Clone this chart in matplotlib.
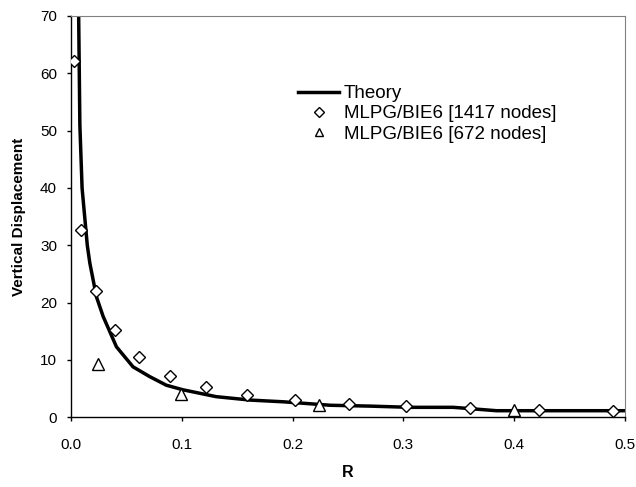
import matplotlib.pyplot as plt
import numpy as np

plt.rcParams['font.family'] = ['Liberation Sans', 'DejaVu Sans']

# theory curve
theory_r = [0.0068, 0.008, 0.010, 0.0147, 0.017, 0.023, 0.029, 0.041, 0.056, 0.071,
            0.086, 0.101, 0.131, 0.162, 0.192, 0.234, 0.27, 0.306, 0.345, 0.384, 0.44, 0.5]
theory_v = [72, 51, 40, 30, 26.9, 21, 17.6, 12.3, 8.8, 7.1,
            5.6, 4.8, 3.6, 3.0, 2.7, 2.1, 1.95, 1.74, 1.74, 1.15, 1.15, 1.15]

# MLPG/BIE6 [1417 nodes]
fine_r = [0.0024, 0.009, 0.0223, 0.0397, 0.0617, 0.089, 0.122, 0.159, 0.2025,
          0.251, 0.302, 0.360, 0.422, 0.489]
fine_v = [62.2, 32.7, 22.0, 15.3, 10.6, 7.2, 5.35, 3.9, 3.1,
          2.3, 1.97, 1.7, 1.3, 1.1]

# MLPG/BIE6 [672 nodes]
coarse_r = [0.024, 0.099, 0.224, 0.400]
coarse_v = [9.3, 4.1, 2.2, 1.3]

fig = plt.figure(figsize=(6.36, 4.87), dpi=100)
ax = fig.add_axes([71 / 636, 1 - 417.3 / 487, (625 - 71) / 636, (417.3 - 16) / 487])

ax.plot(theory_r, theory_v, color='black', linewidth=2.5, label='Theory', zorder=2)
ax.plot(fine_r, fine_v, linestyle='none', marker='D', markersize=6,
        markerfacecolor='white', markeredgecolor='black', markeredgewidth=1.0,
        label='MLPG/BIE6 [1417 nodes]', zorder=3)
ax.plot(coarse_r, coarse_v, linestyle='none', marker='^', markersize=8,
        markerfacecolor='white', markeredgecolor='black', markeredgewidth=1.0,
        label='MLPG/BIE6 [672 nodes]', zorder=3)

ax.set_xlim(0, 0.5)
ax.set_ylim(0, 70)
ax.set_xticks(np.arange(0, 0.51, 0.1))
ax.set_xticklabels(['0.0', '0.1', '0.2', '0.3', '0.4', '0.5'])
ax.set_yticks(np.arange(0, 71, 10))
ax.tick_params(axis='both', direction='out', length=3, width=1, labelsize=11,
               colors='black')
ax.tick_params(axis='x', pad=12)
ax.tick_params(axis='y', pad=7)
ax.spines['top'].set_color('#808080')
ax.spines['right'].set_color('#808080')
ax.spines['left'].set_linewidth(1)
ax.spines['bottom'].set_linewidth(1)

ax.set_xlabel('R', fontsize=11.5, fontweight='bold', labelpad=9)
ax.set_ylabel('Vertical Displacement', fontsize=11, fontweight='bold', labelpad=10)

# legend without frame, lined up with the reference
leg = ax.legend(loc='upper left', bbox_to_anchor=(298 / 636, 1 - 85 / 487),
                bbox_transform=fig.transFigure, frameon=False, fontsize=13.5,
                handlelength=2.2, handletextpad=0.25, labelspacing=0.17,
                borderaxespad=0, borderpad=0, markerscale=0.8)

fig.savefig('out.png', dpi=100)
